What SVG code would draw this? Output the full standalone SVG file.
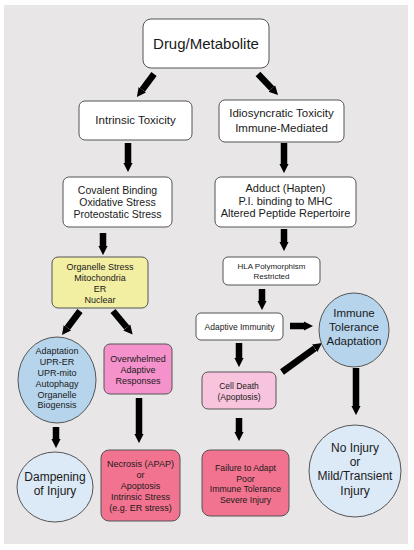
<svg xmlns="http://www.w3.org/2000/svg" width="414" height="550" viewBox="0 0 414 550">
<defs>
<marker id="ah" viewBox="0 0 10 10" refX="0" refY="5" markerWidth="1.4" markerHeight="2.1" markerUnits="strokeWidth" orient="auto"><path d="M0,0 L10,5 L0,10 z" fill="#000"/></marker>
<style>
.box{stroke:#555;stroke-width:1}
.w{fill:#fff}.y{fill:#f2eea2}.pk{fill:#f592cb}.lp{fill:#f8c3dc}.rd{fill:#f2738f}.bl{fill:#b6d4ec}.lb{fill:#dce9f6}
text{font-family:"Liberation Sans",Arial,sans-serif;fill:#1a1a1a;text-anchor:middle}
.arr line{stroke:#000;stroke-width:6.5;marker-end:url(#ah)}
</style>
</defs>
<rect x="0" y="0" width="414" height="550" fill="#fff"/>
<rect x="4" y="5" width="404" height="539" fill="#e8e6e6"/>
<g class="arr" id="connectors">
<line x1="154" y1="74" x2="142.3" y2="89.8"/>
<line x1="258" y1="74" x2="271.8" y2="88.5"/>
<line x1="128" y1="143" x2="128" y2="163"/>
<line x1="103" y1="233" x2="103" y2="246"/>
<line x1="284" y1="143" x2="284" y2="164"/>
<line x1="284" y1="229" x2="284" y2="242"/>
<line x1="262" y1="289" x2="262" y2="301"/>
<line x1="290" y1="326" x2="304" y2="326"/>
<line x1="239" y1="343" x2="239" y2="358"/>
<line x1="282" y1="372" x2="314.7" y2="348.3"/>
<line x1="356" y1="368" x2="356" y2="406"/>
<line x1="239" y1="418" x2="239" y2="432"/>
<line x1="80" y1="311" x2="67.4" y2="327.8"/>
<line x1="113" y1="311" x2="126.8" y2="327.5"/>
<line x1="139" y1="398" x2="139" y2="434"/>
<line x1="56" y1="427" x2="56" y2="439"/>
</g>
<g id="drug"><rect class="box w" x="143" y="19" width="126" height="49" rx="8"/><text x="206" y="49" font-size="15">Drug/Metabolite</text></g>
<g id="intrinsic"><rect class="box w" x="79" y="101" width="113" height="39" rx="6"/><text x="135.5" y="124" font-size="11.5">Intrinsic Toxicity</text></g>
<g id="idio"><rect class="box w" x="219" y="100" width="125" height="42" rx="6"/><text x="281.5" y="117" font-size="11.5">Idiosyncratic Toxicity</text><text x="281.5" y="131.5" font-size="11.5">Immune-Mediated</text></g>
<g id="covalent"><rect class="box w" x="63" y="177" width="109" height="50" rx="6"/><text x="117.5" y="194" font-size="10.5">Covalent Binding</text><text x="117.5" y="206" font-size="10.5">Oxidative Stress</text><text x="117.5" y="218" font-size="10.5">Proteostatic Stress</text></g>
<g id="adduct"><rect class="box w" x="215" y="177" width="141" height="50" rx="6"/><text x="285.5" y="192" font-size="11">Adduct (Hapten)</text><text x="285.5" y="205" font-size="11">P.I. binding to MHC</text><text x="285.5" y="217" font-size="11">Altered Peptide Repertoire</text></g>
<g id="organelle"><rect class="box y" x="52" y="257" width="96" height="51" rx="6"/><text x="100" y="270" font-size="9">Organelle Stress</text><text x="100" y="281" font-size="9">Mitochondria</text><text x="100" y="292" font-size="9">ER</text><text x="100" y="302.5" font-size="9">Nuclear</text></g>
<g id="hla"><rect class="box w" x="223" y="257" width="97" height="28" rx="5"/><text x="271.5" y="269" font-size="8">HLA Polymorphism</text><text x="271.5" y="279" font-size="8">Restricted</text></g>
<g id="adaptive"><rect class="box w" x="196" y="313" width="87" height="27" rx="5"/><text x="239.5" y="330" font-size="8.5">Adaptive Immunity</text></g>
<g id="tolerance"><ellipse class="box bl" cx="354" cy="330" rx="35" ry="37"/><text x="354" y="317" font-size="11.5">Immune</text><text x="354" y="331" font-size="11.5">Tolerance</text><text x="354" y="345" font-size="11.5">Adaptation</text></g>
<g id="celldeath"><rect class="box lp" x="202" y="372" width="74" height="37" rx="6"/><text x="239" y="389" font-size="8.5">Cell Death</text><text x="239" y="400" font-size="8.5">(Apoptosis)</text></g>
<g id="failure"><rect class="box rd" x="202" y="450" width="87" height="66" rx="8"/><text x="245.5" y="471" font-size="8.7">Failure to Adapt</text><text x="245.5" y="481.5" font-size="8.7">Poor</text><text x="245.5" y="492" font-size="8.7">Immune Tolerance</text><text x="245.5" y="503" font-size="8.7">Severe Injury</text></g>
<g id="noinjury"><ellipse class="box lb" cx="355" cy="471" rx="46" ry="46"/><text x="355" y="452" font-size="12">No Injury</text><text x="355" y="466" font-size="12">or</text><text x="355" y="480" font-size="12">Mild/Transient</text><text x="355" y="495" font-size="12">Injury</text></g>
<g id="adaptation"><ellipse class="box bl" cx="57" cy="380" rx="39" ry="43"/><text x="57" y="354" font-size="9">Adaptation</text><text x="57" y="365" font-size="9">UPR-ER</text><text x="57" y="376" font-size="9">UPR-mito</text><text x="57" y="387" font-size="9">Autophagy</text><text x="57" y="397.5" font-size="9">Organelle</text><text x="57" y="408" font-size="9">Biogensis</text></g>
<g id="overwhelmed"><rect class="box pk" x="104" y="344" width="68" height="50" rx="6"/><text x="138" y="362" font-size="9">Overwhelmed</text><text x="138" y="373" font-size="9">Adaptive</text><text x="138" y="384" font-size="9">Responses</text></g>
<g id="dampening"><ellipse class="box lb" cx="55" cy="487" rx="38" ry="35"/><text x="55" y="481" font-size="12">Dampening</text><text x="55" y="495" font-size="12">of Injury</text></g>
<g id="necrosis"><rect class="box rd" x="101" y="450" width="79" height="71" rx="8"/><text x="140.5" y="467" font-size="9">Necrosis (APAP)</text><text x="140.5" y="477.5" font-size="9">or</text><text x="140.5" y="488.5" font-size="9">Apoptosis</text><text x="140.5" y="499.5" font-size="9">Intrinsic Stress</text><text x="140.5" y="510.5" font-size="9">(e.g. ER stress)</text></g>
</svg>
